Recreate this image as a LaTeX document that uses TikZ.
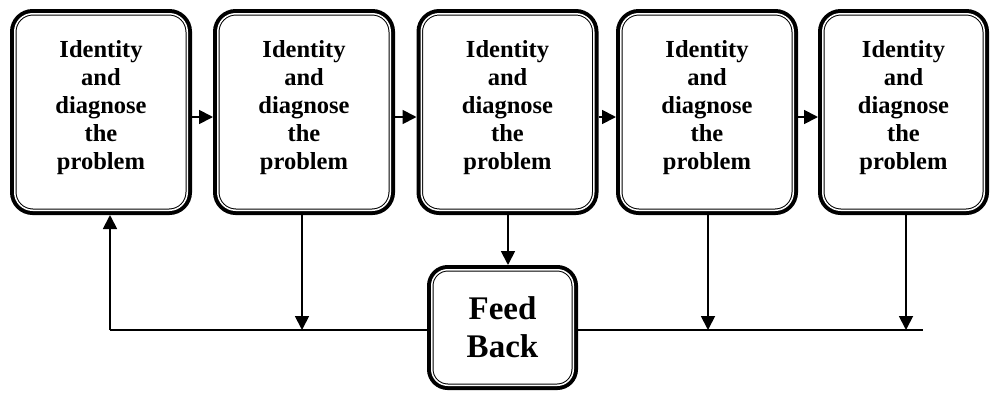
\documentclass[tikz,border=0pt]{standalone}
\usepackage{fontspec}
\setmainfont{Liberation Serif}
\usetikzlibrary{arrows.meta,calc}

\begin{document}
\begin{tikzpicture}[x=1pt, y=-1pt,
    stage/.style={preaction={draw, line width=9.5pt}, draw, fill=white, double=white,
      double distance=1.5pt, line width=1pt, rounded corners=18pt, inner sep=0pt,
      outer sep=4.75pt, minimum width=172.5pt, minimum height=196.5pt, align=center,
      text depth=14pt, font=\bfseries\fontsize{24.5}{28}\selectfont},
    fbbox/.style={preaction={draw, line width=9.5pt}, draw, fill=white, double=white,
      double distance=1.5pt, line width=1pt, rounded corners=16pt, inner sep=0pt,
      outer sep=4.75pt, minimum width=141.5pt, minimum height=115.5pt, align=center,
      font=\bfseries\fontsize{33}{38}\selectfont},
    link/.style={line width=1.8pt, -{Triangle[length=14pt, width=14pt]}},
    bus/.style={line width=1.8pt}]
  \useasboundingbox (0,0) rectangle (991,392);

  % five stages in a row
  \node[stage] (s1) at (101,112) {Identity\\and\\diagnose\\the\\problem};
  \node[stage] (s2) at (304,112) {Identity\\and\\diagnose\\the\\problem};
  \node[stage] (s3) at (507.5,112) {Identity\\and\\diagnose\\the\\problem};
  \node[stage] (s4) at (707,112) {Identity\\and\\diagnose\\the\\problem};
  \node[stage, minimum width=161.5pt] (s5) at (903.5,112) {Identity\\and\\diagnose\\the\\problem};

  \node[fbbox] (fb) at (502.5,327.5) {Feed\\Back};

  % forward arrows
  \draw[link] ($(s1.east)+(0,5)$) -- ($(s2.west)+(0,5)$);
  \draw[link] ($(s2.east)+(0,5)$) -- ($(s3.west)+(0,5)$);
  \draw[link] ($(s3.east)+(0,5)$) -- ($(s4.west)+(0,5)$);
  \draw[link] ($(s4.east)+(0,5)$) -- ($(s5.west)+(0,5)$);

  % feedback line
  \coordinate (busL) at (110,330);
  \coordinate (busR) at (923,330);
  \draw[bus] (busL) -- (busL -| fb.west);
  \draw[bus] (fb.east |- busR) -- (busR);
  \draw[link] (busL) -- (busL |- s1.south);
  \draw[link] ([xshift=-2pt]s2.south) -- ([xshift=-2pt]s2.south |- busL);
  \draw[link] ([xshift=0.5pt]s3.south) -- ([xshift=0.5pt]s3.south |- fb.north);
  \draw[link] ([xshift=1pt]s4.south) -- ([xshift=1pt]s4.south |- busL);
  \draw[link] ([xshift=2.5pt]s5.south) -- ([xshift=2.5pt]s5.south |- busL);
\end{tikzpicture}
\end{document}
